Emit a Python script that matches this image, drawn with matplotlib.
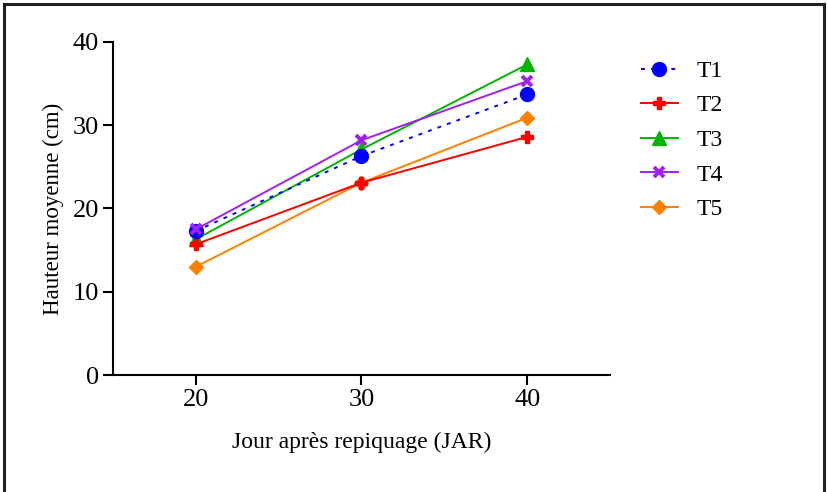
import matplotlib.pyplot as plt
from matplotlib.patches import Rectangle

plt.rcParams['font.family'] = ['Liberation Serif', 'DejaVu Serif']

jours = [20, 30, 40]
T1 = [17.3, 26.3, 33.7]
T2 = [15.7, 23.1, 28.6]
T3 = [16.3, 27.1, 37.3]
T4 = [17.5, 28.2, 35.3]
T5 = [13.0, 23.1, 30.9]
y_ticks = [0, 10, 20, 30, 40]
x_ticks = [20, 30, 40]

fig = plt.figure(figsize=(8.28, 4.92), dpi=100)
ax = fig.add_axes([113/828, 1-375/492, (610-113)/828, (375-42)/492])

# the black frame round the whole figure (bottom edge runs off the page)
fig.patches.append(Rectangle((4/828, -0.05), (824-4)/828, 1.05-4/492, transform=fig.transFigure,
                             fill=False, edgecolor='#222222', linewidth=2.2, zorder=0))

ax.plot(jours, T1, color='#0000ff', linestyle=(0, (2, 3.2)), linewidth=1.4, marker='o', markersize=10, label='T1', zorder=5)
ax.plot(jours, T2, color='#ff0000', linewidth=1.4, marker='P', markersize=9, label='T2', zorder=4)
ax.plot(jours, T3, color='#00b400', linewidth=1.4, marker='^', markersize=9.5, label='T3', zorder=3)
ax.plot(jours, T4, color='#a020f0', linewidth=1.4, marker='x', markersize=7.5, markeredgewidth=2.8, label='T4', zorder=6)
ax.plot(jours, T5, color='#ff8000', linewidth=1.4, marker='D', markersize=7, label='T5', zorder=2)

ax.set_xlim(15, 45)
ax.set_ylim(0, 40)
ax.set_xticks(x_ticks)
ax.set_yticks(y_ticks)
ax.spines['top'].set_visible(False)
ax.spines['right'].set_visible(False)
for s in ('left', 'bottom'):
    ax.spines[s].set_linewidth(1.5)
ax.tick_params(axis='both', labelsize=19, width=1.5, length=7, direction='out', pad=3)
ax.set_xlabel('Jour après repiquage (JAR)', fontsize=17, labelpad=15)
ax.set_ylabel('Hauteur moyenne (cm)', fontsize=16.5, labelpad=6)

leg = ax.legend(loc='upper left', bbox_to_anchor=(1.062, 0.945), frameon=False, fontsize=17,
                borderpad=0, borderaxespad=0, handlelength=1.57, handletextpad=0.8, labelspacing=0.555)

fig.savefig('out.png', dpi=100)
